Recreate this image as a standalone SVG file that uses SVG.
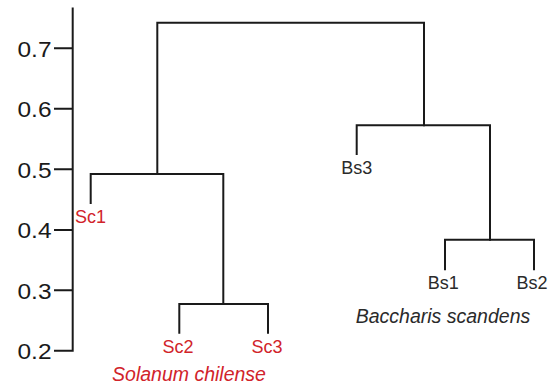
<svg xmlns="http://www.w3.org/2000/svg" width="552" height="390" viewBox="0 0 552 390">
  <style>
    .ln { stroke: #1a1a1a; stroke-width: 2; fill: none; stroke-linecap: square; }
    .tick { font-family: "Liberation Sans", Arial, sans-serif; font-size: 22px; fill: #1a1a1a; text-anchor: end; }
    .lab { font-family: "Liberation Sans", Arial, sans-serif; font-size: 18px; text-anchor: middle; }
    .sc { fill: #d1232a; }
    .bs { fill: #2a2a2a; }
    .sp { font-family: "Liberation Sans", Arial, sans-serif; font-size: 19.5px; font-style: italic; text-anchor: middle; }
  </style>
  <rect width="552" height="390" fill="#ffffff"/>

  <!-- height axis -->
  <g id="axis">
    <path class="ln" d="M72.7 8.5 V350.7 M55 48.3 H72.7 M55 108.7 H72.7 M55 169.3 H72.7 M55 230 H72.7 M55 290.3 H72.7 M55 350.7 H72.7"/>
    <text class="tick" x="51.5" y="56.5" textLength="34" lengthAdjust="spacingAndGlyphs">0.7</text>
    <text class="tick" x="51.5" y="116.9" textLength="34" lengthAdjust="spacingAndGlyphs">0.6</text>
    <text class="tick" x="51.5" y="177.5" textLength="34" lengthAdjust="spacingAndGlyphs">0.5</text>
    <text class="tick" x="51.5" y="238.2" textLength="34" lengthAdjust="spacingAndGlyphs">0.4</text>
    <text class="tick" x="51.5" y="298.5" textLength="34" lengthAdjust="spacingAndGlyphs">0.3</text>
    <text class="tick" x="51.5" y="358.9" textLength="34" lengthAdjust="spacingAndGlyphs">0.2</text>
  </g>

  <!-- dendrogram branches -->
  <g id="connectors">
    <path class="ln" d="M157.3 174 V22.7 H424 V125.3"/>
    <path class="ln" d="M90.7 203 V174 H223.3 V304"/>
    <path class="ln" d="M179.3 332.7 V304 H268 V332.7"/>
    <path class="ln" d="M356.7 154 V125.3 H490 V239.7"/>
    <path class="ln" d="M445 269.3 V239.7 H534 V269.3"/>
  </g>

  <g id="Sc1"><text class="lab sc" x="90.5" y="222.7">Sc1</text></g>
  <g id="Sc2"><text class="lab sc" x="178" y="353.3">Sc2</text></g>
  <g id="Sc3"><text class="lab sc" x="267" y="353.3">Sc3</text></g>
  <g id="Bs3"><text class="lab bs" x="356.7" y="174.3">Bs3</text></g>
  <g id="Bs1"><text class="lab bs" x="443.3" y="289.3">Bs1</text></g>
  <g id="Bs2"><text class="lab bs" x="532" y="289.3">Bs2</text></g>

  <g id="species-labels">
    <text class="sp sc" x="189" y="381" font-size="20px">Solanum chilense</text>
    <text class="sp bs" x="443" y="322.7">Baccharis scandens</text>
  </g>
</svg>
